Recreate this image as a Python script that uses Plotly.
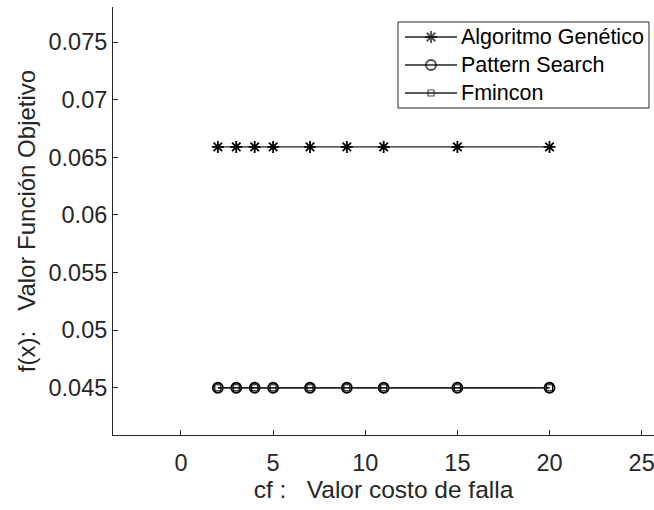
import plotly.graph_objects as go

# Failure cost values (x) and objective function value for each solver
cf = [2, 3, 4, 5, 7, 9, 11, 15, 20]
fx_ga = [0.0659, 0.0659, 0.0659, 0.0659, 0.0659, 0.0659, 0.0659, 0.0659, 0.0659]
fx_ps = [0.045, 0.045, 0.045, 0.045, 0.045, 0.045, 0.045, 0.045, 0.045]
fx_fmincon = [0.045, 0.045, 0.045, 0.045, 0.045, 0.045, 0.045, 0.045, 0.045]

series_names = ["Algoritmo Genético", "Pattern Search", "Fmincon"]

x_ticks = [0, 5, 10, 15, 20, 25]
y_ticks = [0.045, 0.05, 0.055, 0.06, 0.065, 0.07, 0.075]
y_tick_text = ["0.045", "0.05", "0.055", "0.06", "0.065", "0.07", "0.075"]

FONT = "Liberation Sans, Arial, sans-serif"
AX = "#262626"
NB = "\u00a0"
W, H = 654, 510
M_L, M_R, M_T, M_B = 113, 0, 7, 75

styles = [
    dict(symbol="asterisk-open", size=10, lw=1.8),
    dict(symbol="circle-open", size=10, lw=1.8),
    dict(symbol="square-open", size=6, lw=1.2),
]

fig = go.Figure()
for name, ys, st in zip(series_names, [fx_ga, fx_ps, fx_fmincon], styles):
    fig.add_trace(go.Scatter(
        x=cf, y=ys, mode="lines+markers", name=name, showlegend=False,
        line=dict(color="#222222", width=1.3),
        marker=dict(symbol=st["symbol"], size=st["size"], color="black",
                    line=dict(color="black", width=st["lw"])),
    ))

# Legend box drawn on a pixel-based overlay axis pair (x2/y2)
box_l, box_r, box_t, box_b = 398, 649, 22, 108
row_y = [37, 65, 93]
sample_l, sample_r, text_x = 405, 457, 459
fig.add_shape(type="rect", xref="x2", yref="y2", x0=box_l, x1=box_r, y0=box_t, y1=box_b,
              line=dict(color=AX, width=1), fillcolor="white", layer="below")
for name, ry, st in zip(series_names, row_y, styles):
    fig.add_shape(type="line", xref="x2", yref="y2", x0=sample_l, x1=sample_r, y0=ry, y1=ry,
                  line=dict(color="#222222", width=1.3), layer="below")
    fig.add_annotation(xref="x2", yref="y2", x=text_x, y=ry, text=name, showarrow=False,
                       xanchor="left", yanchor="middle",
                       font=dict(family=FONT, size=21.5, color="black"))
fig.add_trace(go.Scatter(
    x=[(sample_l + sample_r) / 2] * 3, y=row_y, xaxis="x2", yaxis="y2",
    mode="markers", showlegend=False, hoverinfo="skip",
    marker=dict(symbol=[s["symbol"] for s in styles], size=[s["size"] for s in styles],
                color="black", line=dict(color="black", width=[s["lw"] for s in styles])),
))

fig.update_layout(
    width=W, height=H,
    margin=dict(l=M_L, r=M_R, t=M_T, b=M_B),
    paper_bgcolor="white", plot_bgcolor="white",
    font=dict(family=FONT, color=AX, size=23),
    showlegend=False,
    xaxis=dict(
        range=[-3.69, 25.67], tickmode="array", tickvals=x_ticks,
        showgrid=False, zeroline=False, showline=True, linecolor=AX, linewidth=1,
        ticks="inside", ticklen=5, tickcolor=AX, tickfont=dict(size=23.5, color=AX),
        ticklabelstandoff=7, ticklabeloverflow="allow",
        title=dict(text=f"cf :{NB*3}Valor costo de falla", font=dict(size=24.5, color=AX), standoff=4),
        mirror=False,
    ),
    yaxis=dict(
        range=[0.0409, 0.07804], tickmode="array", tickvals=y_ticks, ticktext=y_tick_text,
        showgrid=False, zeroline=False, showline=True, linecolor=AX, linewidth=1,
        ticks="inside", ticklen=5, tickcolor=AX, tickfont=dict(size=23.5, color=AX),
        title=dict(text=f"f(x):{NB*3}Valor Función Objetivo", font=dict(size=24, color=AX), standoff=6),
        mirror=False,
    ),
    xaxis2=dict(overlaying="x", range=[M_L, W - M_R], visible=False, fixedrange=True),
    yaxis2=dict(overlaying="y", range=[H - M_B, M_T], visible=False, fixedrange=True),
)

fig.write_html("out.html")
